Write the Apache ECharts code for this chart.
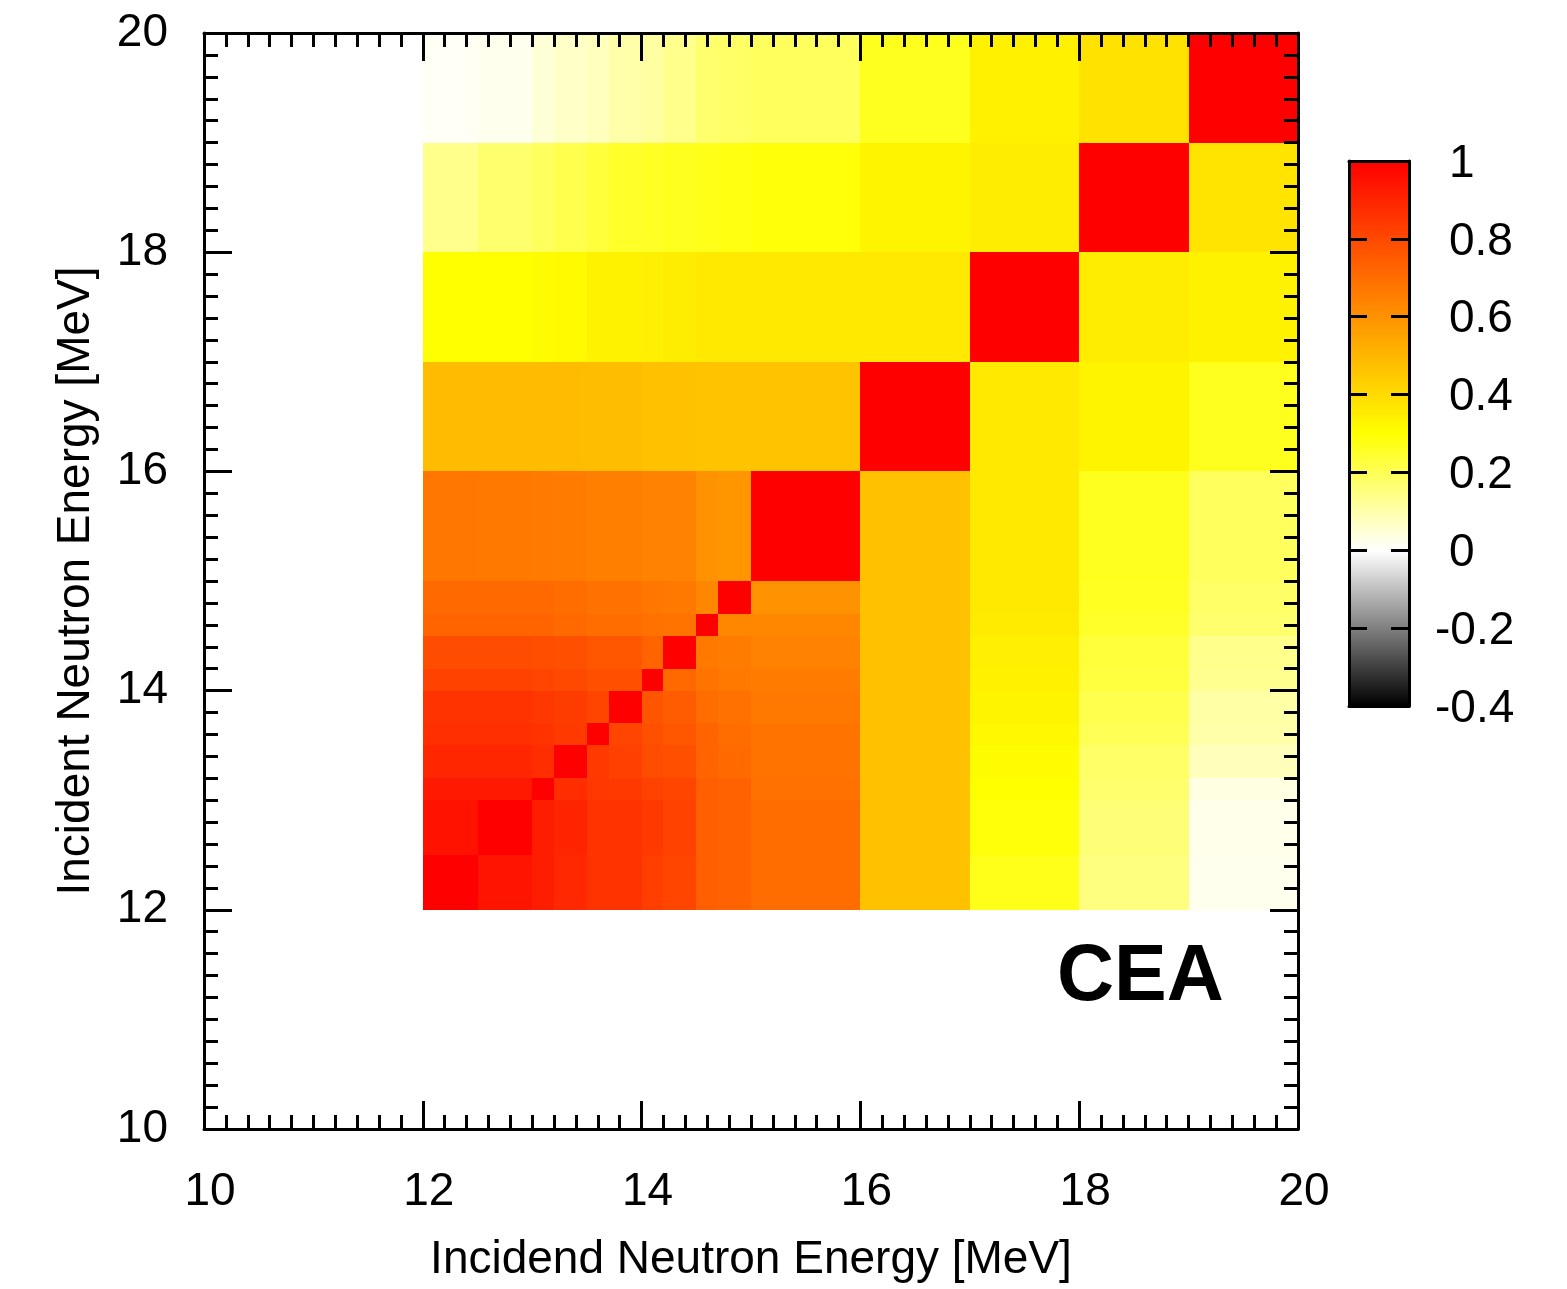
<!DOCTYPE html>
<html>
<head>
<meta charset="utf-8">
<title>Correlation matrix - CEA</title>
<script src="https://cdn.jsdelivr.net/npm/echarts@6/dist/echarts.min.js"></script>
<style>
  html, body { margin: 0; padding: 0; background: #ffffff; }
  #chart { width: 1567px; height: 1289px; }
</style>
</head>
<body>
<div id="chart"></div>
<script>
// Incident neutron energy group boundaries [MeV]
const ENERGY_EDGES = [12, 12.5, 13, 13.2, 13.5, 13.7, 14, 14.2, 14.5, 14.7, 15, 16, 17, 18, 19, 20];

// Correlation coefficients, one row per energy group (bottom 12-12.5 MeV to top 19-20 MeV),
// columns ordered by the same groups from left to right.
const CORR_ROW_00 = [1.000, 0.945, 0.920, 0.890, 0.860, 0.860, 0.830, 0.810, 0.740, 0.730, 0.700, 0.470, 0.270, 0.150, 0.020];
const CORR_ROW_01 = [0.950, 1.000, 0.920, 0.900, 0.860, 0.860, 0.840, 0.820, 0.740, 0.730, 0.700, 0.470, 0.290, 0.160, 0.025];
const CORR_ROW_02 = [0.930, 0.930, 1.000, 0.875, 0.850, 0.840, 0.820, 0.810, 0.740, 0.730, 0.690, 0.470, 0.300, 0.170, 0.035];
const CORR_ROW_03 = [0.895, 0.895, 0.875, 1.000, 0.840, 0.825, 0.790, 0.780, 0.725, 0.710, 0.685, 0.470, 0.310, 0.180, 0.080];
const CORR_ROW_04 = [0.870, 0.870, 0.860, 0.840, 1.000, 0.810, 0.780, 0.765, 0.725, 0.700, 0.680, 0.470, 0.320, 0.200, 0.100];
const CORR_ROW_05 = [0.860, 0.860, 0.850, 0.835, 0.810, 1.000, 0.770, 0.750, 0.700, 0.690, 0.670, 0.470, 0.330, 0.210, 0.105];
const CORR_ROW_06 = [0.820, 0.820, 0.810, 0.800, 0.780, 0.780, 1.000, 0.710, 0.685, 0.670, 0.660, 0.470, 0.340, 0.225, 0.130];
const CORR_ROW_07 = [0.790, 0.790, 0.785, 0.780, 0.760, 0.760, 0.725, 1.000, 0.670, 0.660, 0.640, 0.470, 0.345, 0.230, 0.135];
const CORR_ROW_08 = [0.725, 0.725, 0.725, 0.710, 0.700, 0.700, 0.690, 0.685, 1.000, 0.630, 0.630, 0.470, 0.355, 0.250, 0.170];
const CORR_ROW_09 = [0.710, 0.710, 0.710, 0.700, 0.690, 0.690, 0.675, 0.670, 0.630, 1.000, 0.600, 0.470, 0.360, 0.260, 0.180];
const CORR_ROW_10 = [0.675, 0.670, 0.665, 0.660, 0.650, 0.650, 0.640, 0.640, 0.600, 0.590, 1.000, 0.470, 0.360, 0.265, 0.190];
const CORR_ROW_11 = [0.485, 0.485, 0.485, 0.485, 0.480, 0.480, 0.470, 0.470, 0.465, 0.465, 0.465, 1.000, 0.360, 0.330, 0.265];
const CORR_ROW_12 = [0.300, 0.300, 0.310, 0.315, 0.335, 0.335, 0.345, 0.350, 0.360, 0.360, 0.360, 0.360, 1.000, 0.350, 0.335];
const CORR_ROW_13 = [0.135, 0.170, 0.190, 0.210, 0.230, 0.250, 0.255, 0.265, 0.270, 0.280, 0.290, 0.330, 0.350, 1.000, 0.375];
const CORR_ROW_14 = [0.010, 0.020, 0.047, 0.065, 0.076, 0.100, 0.110, 0.135, 0.170, 0.180, 0.190, 0.265, 0.340, 0.380, 1.000];

const CORRELATION = [
  CORR_ROW_00, CORR_ROW_01, CORR_ROW_02, CORR_ROW_03, CORR_ROW_04,
  CORR_ROW_05, CORR_ROW_06, CORR_ROW_07, CORR_ROW_08, CORR_ROW_09,
  CORR_ROW_10, CORR_ROW_11, CORR_ROW_12, CORR_ROW_13, CORR_ROW_14
];

// Axis ranges
const ENERGY_RANGE = [10, 20];
const ENERGY_TICK_STEP = 2;
const COLORBAR_RANGE = [-0.4, 1];
const COLORBAR_TICK_STEP = 0.2;

// Colour scale: black -> white -> yellow -> red, anchors every 0.1
const COLOR_LEVELS = [-0.4, -0.3, -0.2, -0.1, 0.0, 0.1, 0.2, 0.3, 0.4, 0.5, 0.6, 0.7, 0.8, 0.9, 1.0];
const COLOR_STOPS = ['#000000', '#404040', '#808080', '#bfbfbf', '#ffffff', '#ffffaa', '#ffff55', '#ffff00',
                     '#ffdb00', '#ffb600', '#ff9200', '#ff6d00', '#ff4900', '#ff2400', '#ff0000'];

const X_TITLE = 'Incidend Neutron Energy [MeV]';
const Y_TITLE = 'Incident Neutron Energy [MeV]';
const LAB_NAME = 'CEA';

const FONT = "'Liberation Sans', Arial, Helvetica, sans-serif";

// One cell per (row group, column group): [x0, x1, y0, y1, value]
const cells = [];
CORRELATION.forEach(function (row, r) {
  row.forEach(function (v, c) {
    cells.push([ENERGY_EDGES[c], ENERGY_EDGES[c + 1], ENERGY_EDGES[r], ENERGY_EDGES[r + 1], v]);
  });
});

const chart = echarts.init(document.getElementById('chart'), null, { renderer: 'canvas' });

const tickLabelStyle = { fontFamily: FONT, fontSize: 46, color: '#000000' };
const blackLine = { color: '#000000', width: 3 };

function energyAxis(position, withLabels, extra) {
  return Object.assign({
    type: 'value',
    gridIndex: 0,
    position: position,
    min: ENERGY_RANGE[0],
    max: ENERGY_RANGE[1],
    interval: ENERGY_TICK_STEP,
    z: 10,
    axisLine: { show: true, onZero: false, lineStyle: blackLine },
    axisTick: { show: true, inside: true, length: 28, lineStyle: blackLine },
    minorTick: { show: true, splitNumber: 10, length: 14, lineStyle: blackLine },
    splitLine: { show: false },
    minorSplitLine: { show: false },
    axisLabel: withLabels ? Object.assign({ show: true, margin: 36 }, tickLabelStyle) : { show: false }
  }, extra || {});
}

function colorbarAxis(kind, position, extra) {
  const isY = kind === 'y';
  return Object.assign({
    type: 'value',
    gridIndex: 1,
    position: position,
    min: isY ? COLORBAR_RANGE[0] : 0,
    max: isY ? COLORBAR_RANGE[1] : 1,
    interval: isY ? COLORBAR_TICK_STEP : 1,
    z: 10,
    axisLine: { show: true, onZero: false, lineStyle: blackLine },
    axisTick: { show: isY, inside: true, length: 18, lineStyle: blackLine },
    splitLine: { show: false },
    axisLabel: { show: false }
  }, extra || {});
}

const colorbarGradientStops = COLOR_LEVELS.map(function (lv, i) {
  return { offset: (lv - COLORBAR_RANGE[0]) / (COLORBAR_RANGE[1] - COLORBAR_RANGE[0]), color: COLOR_STOPS[i] };
});

// Colour-bar labels: digits line up, the minus sign hangs to the left
function colorbarLabel(value) {
  const text = String(Math.round(value * 10) / 10);
  return value < -1e-9 ? '{num|' + text + '}' : '{pad|\u00a0}{num|' + text + '}';
}

const option = {
  backgroundColor: '#ffffff',
  animation: false,
  title: {
    text: LAB_NAME,
    left: 1057,
    top: 939,
    padding: 0,
    textStyle: { fontFamily: FONT, fontSize: 79, fontWeight: 'bold', color: '#000000' }
  },
  grid: [
    { left: 204, top: 33, width: 1094, height: 1096, containLabel: false, outerBoundsMode: 'none' },
    { left: 1349, top: 161, width: 60, height: 545, containLabel: false, outerBoundsMode: 'none' }
  ],
  xAxis: [
    energyAxis('bottom', true, {
      axisLabel: Object.assign({ show: true, margin: 40, padding: [0, 0, 0, 12] }, tickLabelStyle),
      name: X_TITLE,
      nameLocation: 'middle',
      nameGap: 108,
      nameTextStyle: { fontFamily: FONT, fontSize: 46, color: '#000000' }
    }),
    energyAxis('top', false),
    colorbarAxis('x', 'bottom'),
    colorbarAxis('x', 'top')
  ],
  yAxis: [
    energyAxis('left', true, {
      axisLabel: Object.assign({ show: true, margin: 36, padding: [5, 0, 0, 0] }, tickLabelStyle),
      name: Y_TITLE,
      nameLocation: 'middle',
      nameRotate: 90,
      nameGap: 105,
      nameTextStyle: { fontFamily: FONT, fontSize: 46, color: '#000000' }
    }),
    energyAxis('right', false),
    colorbarAxis('y', 'left'),
    colorbarAxis('y', 'right', {
      axisLabel: Object.assign({
        show: true,
        margin: 26,
        padding: [6, 0, 0, 0],
        formatter: colorbarLabel,
        rich: {
          pad: { width: 14, fontFamily: FONT, fontSize: 46 },
          num: { fontFamily: FONT, fontSize: 46, color: '#000000' }
        }
      }, tickLabelStyle)
    })
  ],
  visualMap: {
    type: 'continuous',
    show: false,
    seriesIndex: 0,
    dimension: 4,
    min: COLORBAR_RANGE[0],
    max: COLORBAR_RANGE[1],
    inRange: { color: COLOR_STOPS }
  },
  series: [
    {
      type: 'custom',
      name: 'correlation',
      xAxisIndex: 0,
      yAxisIndex: 0,
      z: 1,
      encode: { x: [0, 1], y: [2, 3] },
      data: cells,
      renderItem: function (params, api) {
        const p0 = api.coord([api.value(0), api.value(2)]);
        const p1 = api.coord([api.value(1), api.value(3)]);
        const x0 = Math.round(p0[0]), x1 = Math.round(p1[0]);
        const yb = Math.round(p0[1]), yt = Math.round(p1[1]);
        return {
          type: 'rect',
          shape: { x: x0, y: yt, width: x1 - x0, height: yb - yt },
          style: { fill: api.visual('color') }
        };
      }
    },
    {
      type: 'custom',
      name: 'colorbar',
      xAxisIndex: 2,
      yAxisIndex: 2,
      z: 1,
      silent: true,
      data: [[0, 1, COLORBAR_RANGE[0], COLORBAR_RANGE[1]]],
      renderItem: function (params, api) {
        const p0 = api.coord([api.value(0), api.value(2)]);
        const p1 = api.coord([api.value(1), api.value(3)]);
        return {
          type: 'rect',
          shape: { x: p0[0], y: p1[1], width: p1[0] - p0[0], height: p0[1] - p1[1] },
          style: { fill: new echarts.graphic.LinearGradient(0, 1, 0, 0, colorbarGradientStops) }
        };
      }
    }
  ]
};

chart.setOption(option);
</script>
</body>
</html>
